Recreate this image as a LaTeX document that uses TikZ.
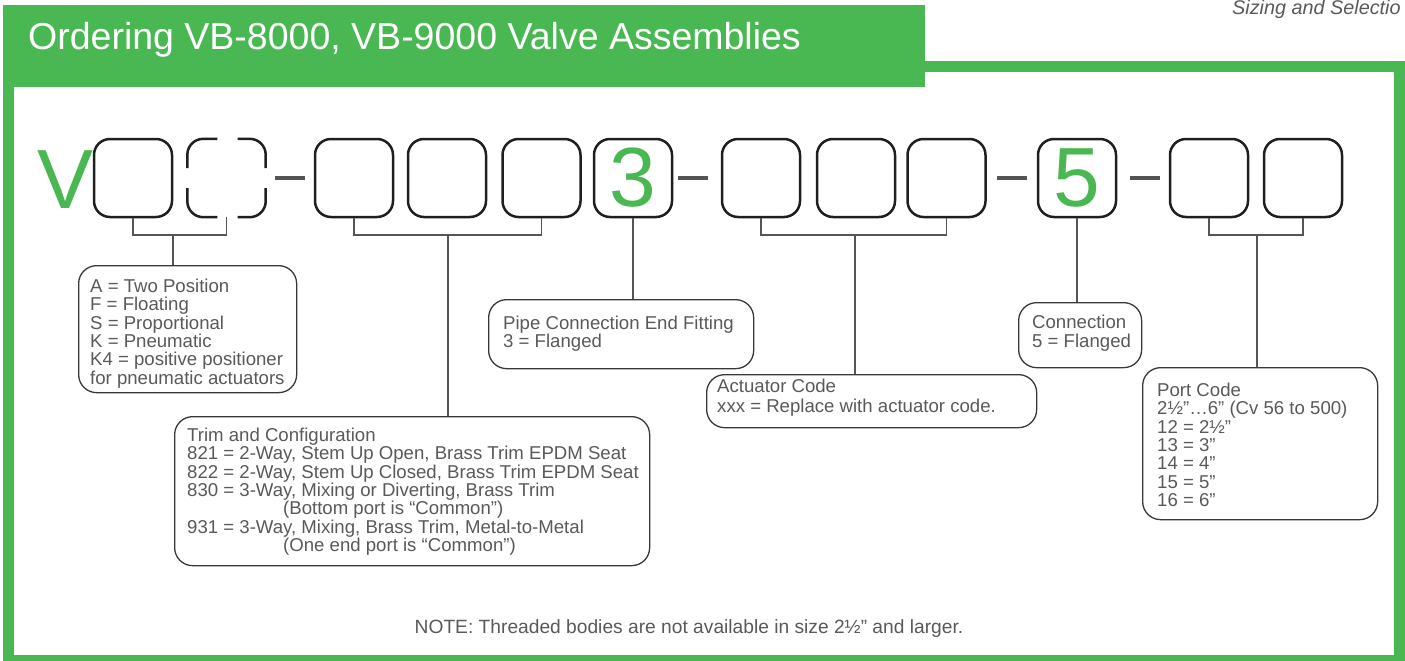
\documentclass[tikz,border=0pt]{standalone}
\usepackage{fontspec}
\setmainfont{Liberation Sans}
\definecolor{vgreen}{RGB}{74,184,82}
\definecolor{txtgray}{RGB}{88,89,91}
\definecolor{linegray}{RGB}{85,85,85}
\begin{document}
\begin{tikzpicture}[x=1pt,y=-1pt,
  codebox/.style={draw=black!88, line width=2.5pt, rounded corners=16pt, minimum width=78pt, minimum height=78pt, inner sep=0pt},
  codeline/.style={draw=black!88, line width=2.5pt, rounded corners=16pt},
  dashln/.style={draw=linegray, line width=4.5pt},
  brk/.style={draw=linegray, line width=1.5pt},
  infobox/.style={draw=black!78, line width=1.3pt, rounded corners=18pt, inner sep=0pt, anchor=north west},
  infotext/.style={anchor=north west, inner sep=0pt, align=left, text=txtgray, font=\fontsize{18.6}{18.4}\selectfont},
  bigtxt/.style={text=vgreen, font=\fontsize{84}{84}\selectfont}
]
\useasboundingbox (0,0) rectangle (1405,661);
\clip (0,0) rectangle (1405,661);
% frame and header
\draw[vgreen, line width=11pt] (8,66.5) rectangle (1399.5,660.5);
\fill[vgreen] (3,5) rectangle (925,87);
\node[anchor=base west, inner sep=0pt, text=white, font=\fontsize{37.5}{37.5}\selectfont] (title) at (28,50) {Ordering VB-8000, VB-9000 Valve Assemblies};
\node[anchor=base west, inner sep=0pt, text=txtgray, font=\fontsize{19.8}{19.8}\selectfont\itshape] (sizing) at (1232,15) {Sizing and Selectio};
% code row
\node[bigtxt, anchor=base west, inner sep=0pt] (V) at (37,208) {V};
\node[codebox] (b1) at (133,178) {};
\node[minimum width=78pt, minimum height=78pt, inner sep=0pt] (b2) at (226.5,178) {};
\draw[codeline] (b2.west) ++(0,-10) -- (b2.north west) -- ++(30,0);
\draw[codeline] (b2.west) ++(0,10) -- (b2.south west) -- ++(30,0);
\draw[codeline] (b2.east) ++(0,-10) -- (b2.north east) -- ++(-28,0);
\draw[codeline] (b2.east) ++(0,10) -- (b2.south east) -- ++(-28,0);
\node[codebox] (b3) at (354,178) {};
\node[codebox] (b4) at (447,178) {};
\node[codebox] (b5) at (541.5,178) {};
\node[codebox, bigtxt] (b6) at (633,178) {3};
\node[codebox] (b7) at (761,178) {};
\node[codebox] (b8) at (856,178) {};
\node[codebox] (b9) at (946.5,178) {};
\node[codebox, bigtxt] (b10) at (1077,178) {5};
\node[codebox] (b11) at (1209,178) {};
\node[codebox] (b12) at (1303,178) {};
% dashes
\draw[dashln] ([xshift=9.5pt]b2.east) -- ++(30,0);
\draw[dashln] ([xshift=5pt]b6.east) -- ++(30,0);
\draw[dashln] ([xshift=10pt]b9.east) -- ++(30,0);
\draw[dashln] ([xshift=13pt]b10.east) -- ++(30,0);
% info boxes
\node[infobox, minimum width=218pt, minimum height=127pt] (A) at (78,265) {};
\node[infobox, minimum width=475pt, minimum height=149pt] (trim) at (174,416) {};
\node[infobox, minimum width=265pt, minimum height=69pt] (pipe) at (488,299) {};
\node[infobox, minimum width=330pt, minimum height=53pt] (act) at (706,374) {};
\node[infobox, minimum width=123pt, minimum height=65pt] (conn) at (1018,302) {};
\node[infobox, minimum width=235pt, minimum height=152pt] (port) at (1142,367) {};
% info texts
\node[infotext] (tA) at (90,278.6) {A = Two Position\\F = Floating\\S = Proportional\\K = Pneumatic\\K4 = positive positioner\\for pneumatic actuators};
\node[infotext] (tTrim) at (187,427.6) {Trim and Configuration\\821 = 2-Way, Stem Up Open, Brass Trim EPDM Seat\\822 = 2-Way, Stem Up Closed, Brass Trim EPDM Seat\\830 = 3-Way, Mixing or Diverting, Brass Trim\\\hspace*{96pt}(Bottom port is “Common”)\\931 = 3-Way, Mixing, Brass Trim, Metal-to-Metal\\\hspace*{96pt}(One end port is “Common”)};
\node[infotext] (tPipe) at (503,315.6) {Pipe Connection End Fitting\\3 = Flanged};
\node[infotext, font=\fontsize{18.6}{20}\selectfont] (tAct) at (717,378.6) {Actuator Code\\xxx = Replace with actuator code.};
\node[infotext] (tConn) at (1032,315.2) {Connection\\5 = Flanged};
\node[infotext] (tPort) at (1157,382.6) {Port Code\\2½”…6” (Cv 56 to 500)\\12 = 2½”\\13 = 3”\\14 = 4”\\15 = 5”\\16 = 6”};
% brackets
\coordinate (jA) at (173,235);
\coordinate (jT) at (448,235);
\coordinate (jAc) at (855,235);
\coordinate (jP) at (1257,235);
\draw[brk] (b1.south) |- (jA) -| (b2.south);
\draw[brk] (jA) -- (jA |- A.north);
\draw[brk] (b3.south) |- (jT) -| (b5.south);
\draw[brk] (jT) -- (jT |- trim.north);
\draw[brk] (b6.south) -- (b6.south |- pipe.north);
\draw[brk] (b7.south) |- (jAc) -| (b9.south);
\draw[brk] (jAc) -- (jAc |- act.north);
\draw[brk] (b10.south) -- (b10.south |- conn.north);
\draw[brk] (b11.south) |- (jP) -| (b12.south);
\draw[brk] (jP) -- (jP |- port.north);
% note
\node[anchor=base, inner sep=0pt, text=txtgray, font=\fontsize{19.2}{19.2}\selectfont] (note) at (689,633) {NOTE: Threaded bodies are not available in size 2½” and larger.};
\end{tikzpicture}
\end{document}
